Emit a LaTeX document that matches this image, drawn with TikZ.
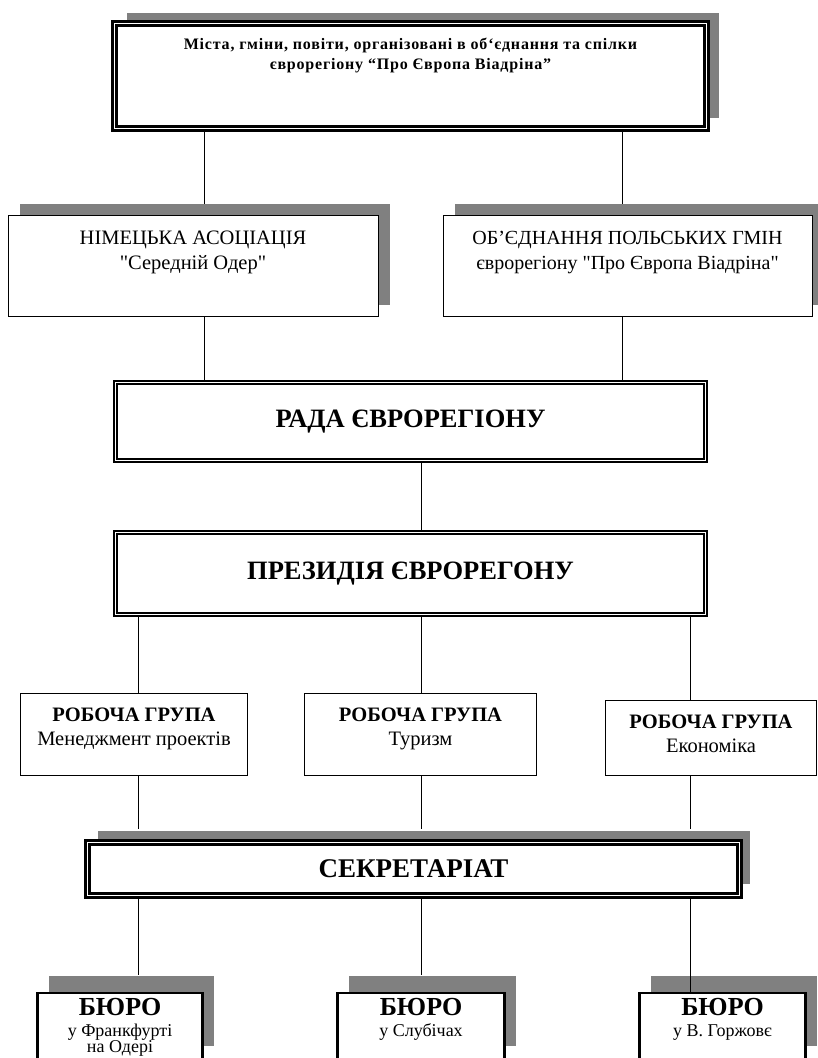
\documentclass[tikz,border=0pt]{standalone}
\usepackage{fontspec}
\setmainfont{Liberation Serif}
\usetikzlibrary{positioning, shadows}

\newcommand{\tightlines}{\setlength{\lineskiplimit}{-20pt}}

\tikzset{
  shadowed/.style 2 args = {drop shadow={shadow xshift=#1, shadow yshift=#2, fill=black!50, opacity=1}},
  dblbox/.style = {draw, line width=2pt, double=white, double distance=1.2pt, fill=white, inner sep=0pt},
  heavybox/.style = {dblbox, line width=2.6pt, double distance=1pt},
  thinbox/.style = {draw, line width=1pt, fill=white, inner sep=0pt},
  grpbox/.style = {draw, line width=1.8pt, fill=white, inner sep=0pt},
  burobox/.style = {draw, line width=2.5pt, fill=white, inner sep=0pt},
  lbl/.style = {align=center, inner sep=0pt, anchor=north},
  burolbl/.style = {lbl, font={\fontsize{18}{16}\selectfont\tightlines}},
  link/.style = {line width=0.8pt}
}

\begin{document}
\begin{tikzpicture}[x=1pt, y=-1pt]
\useasboundingbox (0,0) rectangle (818,1058);

% top level
\node[heavybox, shadowed={12pt}{11pt}, minimum width=592, minimum height=105] (top) at (410.5,76) {};
\node[lbl, below=16pt of top.north, font=\fontsize{16}{20}\selectfont\bfseries\addfontfeatures{LetterSpace=5}] (toptxt)
  {Міста, гміни, повіти, організовані в об‘єднання та спілки\\єврорегіону “Про Європа Віадріна”};

% associations
\node[thinbox, shadowed={12pt}{11pt}, minimum width=370, minimum height=101] (nem) at (193,265.5) {};
\node[lbl, below=16pt of nem.north, font=\fontsize{20.5}{25}\selectfont] (nemtxt) {НІМЕЦЬКА АСОЦІАЦІЯ\\\textquotedbl Середній Одер\textquotedbl};
\node[thinbox, shadowed={12pt}{11pt}, minimum width=369, minimum height=101] (ob) at (627.5,265.5) {};
\node[lbl, below=16pt of ob.north, font=\fontsize{20}{25}\selectfont] (obtxt) {ОБ’ЄДНАННЯ ПОЛЬСЬКИХ ГМІН\\єврорегіону \textquotedbl Про Європа Віадріна\textquotedbl};

% council and presidium
\node[dblbox, minimum width=590, minimum height=78, font=\fontsize{26.5}{30}\selectfont\bfseries] (rada) at (410.5,421.5) {РАДА ЄВРОРЕГІОНУ};
\node[dblbox, minimum width=590, minimum height=82, font=\fontsize{26.5}{30}\selectfont\bfseries] (prez) at (410.5,573.5) {ПРЕЗИДІЯ ЄВРОРЕГОНУ};

% working groups
\node[grpbox, minimum width=227, minimum height=82] (grp1) at (134,734.5) {};
\node[lbl, below=15pt of grp1.north, font=\fontsize{20.5}{24}\selectfont] (grp1txt) {\textbf{РОБОЧА ГРУПА}\\Менеджмент проектів};
\node[grpbox, minimum width=232, minimum height=82] (grp2) at (420.5,734.5) {};
\node[lbl, below=15pt of grp2.north, font=\fontsize{20.5}{24}\selectfont] (grp2txt) {\textbf{РОБОЧА ГРУПА}\\Туризм};
\node[grpbox, minimum width=211, minimum height=75] (grp3) at (711,738) {};
\node[lbl, below=15pt of grp3.north, font=\fontsize{20.5}{24}\selectfont] (grp3txt) {\textbf{РОБОЧА ГРУПА}\\Економіка};

% secretariat
\node[heavybox, shadowed={10pt}{12pt}, minimum width=652, minimum height=53, font=\fontsize{27}{30}\selectfont\bfseries] (sekr) at (413.5,869) {СЕКРЕТАРІАТ};

% offices
\node[burobox, shadowed={11pt}{17pt}, minimum width=165, minimum height=70] (buro1) at (120,1028) {};
\node[burolbl, below=6pt of buro1.north] (buro1txt) {{\fontsize{26}{28}\selectfont\bfseries БЮРО}\\[5pt]у Франкфурті\\на Одері};
\node[burobox, shadowed={11pt}{17pt}, minimum width=167, minimum height=70] (buro2) at (421,1028) {};
\node[burolbl, below=6pt of buro2.north] (buro2txt) {{\fontsize{26}{28}\selectfont\bfseries БЮРО}\\[5pt]у Слубічах};
\node[burobox, shadowed={11pt}{17pt}, minimum width=166, minimum height=70] (buro3) at (722.5,1028) {};
\node[burolbl, below=6pt of buro3.north] (buro3txt) {{\fontsize{26}{28}\selectfont\bfseries БЮРО}\\[5pt]у В. Горжовє};

% columns for the links
\coordinate (nemtop) at ([xshift=11pt, yshift=11pt]nem.north);
\coordinate (obtop) at ([xshift=-5pt, yshift=11pt]ob.north);
\coordinate (colA) at ([xshift=4pt]grp1.center);
\coordinate (colB) at ([xshift=1pt]grp2.center);
\coordinate (colC) at ([xshift=-21pt]grp3.center);
\coordinate (sekrtop) at ([yshift=12pt]sekr.north);
\coordinate (buro1top) at ([yshift=17pt]buro1.north);
\coordinate (buro2top) at ([yshift=17pt]buro2.north);

\draw[link] (top.south -| nemtop) -- (nemtop);
\draw[link] (top.south -| obtop) -- (obtop);
\draw[link] (nem.south -| nemtop) -- (rada.north -| nemtop);
\draw[link] (ob.south -| obtop) -- (rada.north -| obtop);
\draw[link] (rada.south -| colB) -- (prez.north -| colB);
\draw[link] (prez.south -| colA) -- (grp1.north -| colA);
\draw[link] (prez.south -| colB) -- (grp2.north -| colB);
\draw[link] (prez.south -| colC) -- (grp3.north -| colC);
\draw[link] (grp1.south -| colA) -- (sekrtop -| colA);
\draw[link] (grp2.south -| colB) -- (sekrtop -| colB);
\draw[link] (grp3.south -| colC) -- (sekrtop -| colC);
\draw[link] (sekr.south -| colA) -- (buro1top -| colA);
\draw[link] (sekr.south -| colB) -- (buro2top -| colB);
\draw[link] (sekr.south -| colC) -- (buro3.north -| colC);
\end{tikzpicture}
\end{document}
